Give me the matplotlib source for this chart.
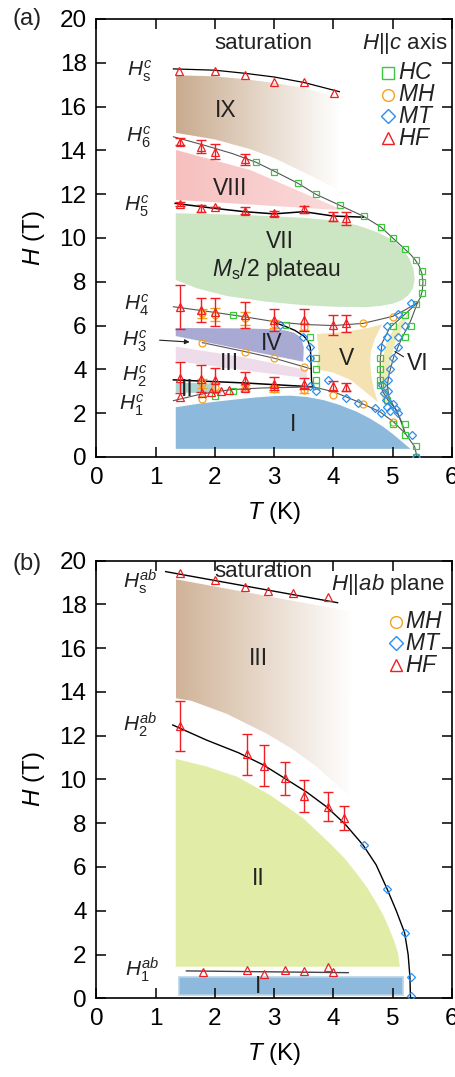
import numpy as np
import matplotlib.pyplot as plt
from matplotlib.patches import Polygon
from matplotlib.colors import LinearSegmentedColormap

plt.rcParams['font.family'] = ['Liberation Sans', 'DejaVu Sans']
plt.rcParams['mathtext.fontset'] = 'custom'
plt.rcParams['mathtext.it'] = 'Liberation Sans:italic'
plt.rcParams['mathtext.rm'] = 'Liberation Sans'

# ================= panel (a): H || c =================
# HF (pulsed field) transitions
hs_T = [1.40, 2.00, 2.51, 3.00, 3.50, 4.01]
hs_H = [17.64, 17.64, 17.43, 17.14, 17.14, 16.61]
h6_T = [1.41, 1.77, 2.01, 2.51]
h6_H = [14.40, 14.17, 13.94, 13.60]
h6_err = [0.15, 0.30, 0.35, 0.25]
hf_T = [1.41, 1.77, 2.00, 2.51, 3.00, 3.50, 4.00, 4.22]
h5_H = [11.54, 11.35, 11.43, 11.25, 11.12, 11.31, 10.97, 10.90]
h5_err = [0.10, 0.15, 0.0, 0.15, 0.12, 0.15, 0.20, 0.30]
h4_H = [6.86, 6.71, 6.63, 6.48, 6.26, 6.26, 6.03, 6.10]
h4_err = [1.0, 0.55, 0.65, 0.6, 0.5, 0.5, 0.45, 0.4]
h2_H = [3.62, 3.58, 3.50, 3.50, 3.35, 3.35, 3.24, 3.20]
h2_err = [0.7, 0.6, 0.55, 0.4, 0.3, 0.25, 0.25, 0.2]
h1_T = [1.41, 1.78, 1.93, 2.10, 2.23, 2.50]
h1_H = [2.75, 2.90, 2.97, 3.02, 3.06, 3.15]

# MH (orange)
mhe_T = [1.78, 2.00, 2.51, 3.00, 3.50, 1.78, 2.00, 2.51, 3.00, 3.50]
mhe_H = [6.56, 6.50, 6.33, 6.07, 5.95, 3.36, 3.20, 3.15, 3.10, 3.05]
mhe_err = [0.2, 0.3, 0.3, 0.2, 0.15, 0.2, 0.2, 0.15, 0.15, 0.15]
mh_T = [4.50, 5.00, 1.79, 2.51, 3.00, 3.50, 1.78, 4.00, 4.50, 5.00]
mh_H = [6.10, 6.41, 5.22, 4.81, 4.51, 4.12, 2.65, 2.83, 2.42, 1.61]

# MT (blue)
mt_T = [3.10, 3.49, 3.60, 3.60, 3.60, 3.70, 3.90, 4.21, 4.42, 4.70, 4.80, 4.88,
        4.90, 4.95, 5.01, 5.09, 5.32, 5.40, 5.30, 5.09, 4.90, 5.21, 4.91, 5.09,
        4.80, 5.09, 5.01, 4.95, 4.92, 4.92, 4.82, 4.85, 5.05]
mt_H = [6.03, 5.49, 5.04, 4.50, 3.24, 3.03, 3.52, 2.71, 2.48, 2.22, 2.03, 2.60,
        2.30, 2.10, 2.40, 2.03, 1.00, 0.00, 7.05, 6.53, 6.00, 6.00, 5.49, 5.49,
        5.01, 5.01, 4.50, 4.00, 3.50, 3.00, 3.30, 2.90, 2.20]

# HC (green)
hc_T = [2.70, 3.00, 3.41, 3.70, 4.11, 4.51, 4.80, 5.01, 5.21, 5.40, 5.50, 5.50,
        5.50, 5.40, 5.21, 5.30, 5.21, 5.00, 2.30, 3.20, 3.60, 3.70, 3.70, 3.70,
        3.70, 2.00, 2.30, 4.78, 4.78, 4.78, 4.78, 4.90, 5.00, 5.21, 5.21, 5.40, 5.40]
hc_H = [13.48, 13.00, 12.50, 12.00, 11.52, 11.00, 10.52, 10.00, 9.50, 9.00, 8.50, 8.00,
        7.50, 7.00, 6.48, 5.98, 5.49, 5.98, 6.48, 6.03, 5.49, 4.50, 4.00, 3.52,
        3.24, 2.80, 3.03, 4.50, 4.00, 3.52, 3.30, 2.60, 1.50, 1.51, 1.00, 0.50, 0.00]

# guide lines (a)
lhs_T = [1.30, 2.00, 2.50, 3.00, 3.50, 4.10]
lhs_H = [17.72, 17.66, 17.52, 17.35, 17.10, 16.68]
lh6_T = [1.30, 1.80, 2.30, 2.70, 3.00, 3.40, 3.70, 4.10, 4.50, 4.80, 5.00, 5.20, 5.30, 5.38, 5.45, 5.49, 5.51, 5.50, 5.47, 5.42]
lh6_H = [14.62, 14.25, 13.85, 13.45, 13.05, 12.50, 12.00, 11.50, 11.00, 10.50, 10.00, 9.50, 9.25, 9.00, 8.70, 8.40, 8.00, 7.60, 7.30, 7.05]
lh5_T = [1.33, 2.00, 2.50, 3.00, 3.50, 4.00, 4.50]
lh5_H = [11.58, 11.35, 11.20, 11.10, 11.20, 11.00, 10.95]
lh4_T = [1.30, 2.00, 2.50, 3.00, 3.50, 4.00, 4.50, 5.00, 5.20, 5.42]
lh4_H = [6.86, 6.60, 6.40, 6.18, 6.05, 6.00, 6.10, 6.42, 6.70, 7.05]
lh3_T = [1.79, 2.51, 3.00, 3.50, 3.62]
lh3_H = [5.22, 4.81, 4.51, 4.12, 4.02]
liv_T = [3.00, 3.20, 3.35, 3.50, 3.57, 3.61, 3.62, 3.63, 3.65]
liv_H = [6.15, 5.95, 5.78, 5.52, 5.30, 5.00, 4.50, 3.50, 3.20]
lh2_T = [1.30, 2.50, 3.66]
lh2_H = [3.52, 3.38, 3.20]
lh1_T = [1.30, 1.70, 2.00, 2.30, 2.80, 3.66, 4.00, 4.45, 4.78, 5.01, 5.21, 5.37, 5.41]
lh1_H = [2.57, 2.83, 2.98, 3.08, 3.15, 3.20, 2.98, 2.48, 2.07, 1.61, 1.08, 0.47, 0.00]
lvl_T = [5.42, 5.20, 4.95, 4.82, 4.79, 4.79, 4.83, 4.92, 5.05, 5.15, 5.21]
lvl_H = [7.05, 6.50, 5.90, 5.20, 4.50, 3.50, 3.00, 2.60, 2.20, 1.60, 1.08]
lvr_T = [5.42, 5.30, 5.15, 5.02, 4.94, 4.91, 4.93, 5.00, 5.10, 5.21]
lvr_H = [7.05, 6.20, 5.40, 4.60, 3.80, 3.30, 2.80, 2.40, 1.90, 1.08]

# phase regions (a)
r9_T = [1.34, 2.0, 2.5, 3.0, 3.5, 4.09, 4.09, 3.5, 3.0, 2.6, 2.0, 1.34]
r9_H = [17.43, 17.38, 17.25, 17.08, 16.85, 16.40, 12.2, 13.0, 13.65, 14.05, 14.5, 14.8]
r8_T = [1.34, 2.6, 4.05, 4.2, 4.05, 1.34]
r8_H = [14.02, 13.1, 11.40, 11.33, 11.28, 11.74]
r7_T = [1.34, 2.5, 3.5, 4.0, 4.4, 4.75, 5.0, 5.17, 5.28, 5.35, 5.37, 5.34, 5.27,
        5.15, 5.0, 4.8, 4.56, 4.0, 3.5, 2.87, 2.2, 1.7, 1.34]
r7_H = [11.13, 11.05, 10.92, 10.8, 10.58, 10.25, 9.9, 9.5, 9.05, 8.6, 8.1, 7.7, 7.4,
        7.15, 7.0, 6.9, 6.84, 6.86, 6.93, 7.09, 7.35, 7.7, 8.08]
r4_T = [1.34, 2.5, 3.0, 3.2, 3.33, 3.42, 3.47, 3.50, 3.49, 1.34]
r4_H = [5.89, 5.87, 5.83, 5.77, 5.68, 5.52, 5.3, 5.0, 4.35, 5.52]
r3_T = [1.34, 2.5, 3.55, 3.55, 2.5, 1.34]
r3_H = [5.04, 4.55, 3.97, 3.60, 3.95, 4.38]
r2_T = [1.34, 2.0, 2.0, 1.34]
r2_H = [3.40, 3.35, 2.90, 2.95]
r5_T = [3.72, 4.0, 4.3, 4.6, 4.82, 4.7, 4.63, 4.62, 4.64, 4.68, 4.75, 4.55, 4.3, 4.0, 3.72, 3.75]
r5_H = [5.62, 5.66, 5.76, 5.90, 6.05, 5.4, 4.8, 4.3, 3.7, 3.1, 2.5, 2.95, 3.5, 3.85, 4.0, 4.8]
r6_T = [5.33, 5.2, 5.05, 4.97, 4.93, 4.93, 4.97, 4.88, 4.82, 4.80, 4.82, 4.90, 5.05]
r6_H = [6.75, 6.1, 5.3, 4.5, 3.7, 3.0, 2.5, 2.3, 2.7, 3.5, 4.4, 5.3, 6.0]
r1_T = [1.34, 1.7, 2.0, 2.4, 2.7, 3.0, 3.27, 3.55, 3.83, 4.1, 4.39, 4.62, 4.84,
        5.0, 5.12, 5.22, 5.30, 1.34]
r1_H = [2.27, 2.42, 2.52, 2.64, 2.72, 2.78, 2.80, 2.74, 2.60, 2.38, 2.07, 1.75, 1.38,
        1.05, 0.78, 0.55, 0.37, 0.37]

# ================= panel (b): H || ab =================
hsb_T = [1.41, 2.00, 2.51, 2.90, 3.31, 3.91]
hsb_H = [19.42, 19.12, 18.81, 18.63, 18.54, 18.33]
h2b_T = [1.41, 2.55, 2.83, 3.18, 3.50, 3.91, 4.17]
h2b_H = [12.45, 11.15, 10.63, 10.05, 9.25, 8.76, 8.26]
h2b_err = [1.15, 0.95, 0.95, 0.75, 0.74, 0.65, 0.55]
h1b_T = [1.80, 2.55, 2.83, 3.18, 3.50, 3.90, 4.00]
h1b_H = [1.22, 1.30, 1.11, 1.30, 1.25, 1.42, 1.22]
mtb_T = [4.52, 4.90, 5.21, 5.31, 5.31]
mtb_H = [7.00, 5.00, 3.00, 0.99, 0.10]

lhsb_T = [1.17, 4.07]
lhsb_H = [19.50, 18.08]
lh2b_T = [1.29, 1.86, 2.40, 2.82, 3.18, 3.55, 3.88, 4.20, 4.50, 4.72, 4.90, 5.06,
          5.20, 5.26, 5.29, 5.30]
lh2b_H = [12.49, 11.80, 11.22, 10.66, 10.05, 9.42, 8.76, 7.95, 7.00, 6.10, 5.03, 4.00,
          3.00, 2.00, 0.99, 0.00]
lh1b_T = [1.52, 4.25]
lh1b_H = [1.25, 1.17]

rb3_T = [1.34, 4.31, 4.28, 3.72, 3.3, 2.87, 2.2, 1.6, 1.34]
rb3_H = [19.15, 17.67, 9.21, 10.58, 11.4, 12.1, 13.0, 13.6, 13.71]
rb2_T = [1.34, 1.85, 2.37, 2.93, 3.49, 3.94, 4.18, 4.39, 4.57, 4.73, 4.85, 4.95,
         5.03, 5.09, 5.12, 1.34]
rb2_H = [10.94, 10.60, 10.13, 9.29, 8.23, 7.08, 6.42, 5.71, 5.05, 4.34, 3.75, 3.12,
         2.58, 2.06, 1.44, 1.44]
rb1_T = [1.40, 5.18, 5.18, 1.40]
rb1_H = [0.15, 0.15, 0.96, 0.96]

RED = '#f01e23'
GRN = '#3cc83c'
ORG = '#f5a21e'
BLU = '#2a8ff0'


def region(ax, T, H, color):
    ax.add_patch(Polygon(np.column_stack([T, H]), closed=True, fc=color, ec='none', zorder=1))


def grad_region(ax, T, H, c0, c1):
    poly = Polygon(np.column_stack([T, H]), closed=True, fc='none', ec='none')
    ax.add_patch(poly)
    cmap = LinearSegmentedColormap.from_list('g', [c0, c1])
    im = ax.imshow(np.linspace(0, 1, 256).reshape(1, -1), cmap=cmap, aspect='auto',
                   extent=[min(T), max(T), min(H), max(H)], origin='lower', zorder=1)
    im.set_clip_path(poly)


def style(ax):
    ax.set_xlim(0, 6)
    ax.set_ylim(0, 20)
    ax.set_xticks(range(7))
    ax.set_yticks(range(0, 21, 2))
    ax.tick_params(direction='in', length=7, width=1.1, top=True, right=True,
                   labelsize=17.5, pad=7)
    for s in ax.spines.values():
        s.set_linewidth(1.2)
    ax.set_xlabel('$T$ (K)', fontsize=17.5, labelpad=8)
    ax.set_ylabel('$H$ (T)', fontsize=17.5, labelpad=9)


def guide(ax, T, H, c='#555555', lw=0.8):
    ax.plot(T, H, color=c, lw=lw, zorder=2)


def pts(ax, T, H, marker, color, ms=5.5):
    ax.plot(T, H, ls='none', marker=marker, mfc='none', mec=color, ms=ms, mew=0.9, zorder=3)


def errs(ax, T, H, e, color):
    ax.errorbar(T, H, yerr=e, fmt='none', ecolor=color, elinewidth=1.0, capsize=3.5,
                capthick=1.0, zorder=3)


fig = plt.figure(figsize=(4.55, 10.77), dpi=100)
ax_a = fig.add_axes([0.2117, 0.5757, 0.7817, 0.4067])
ax_b = fig.add_axes([0.2117, 0.0731, 0.7817, 0.4063])

# ---------- (a) ----------
ax = ax_a
grad_region(ax, r9_T, r9_H, '#c9ab8e', '#ffffff')
grad_region(ax, r8_T, r8_H, '#f6c0bf', '#fbdcdc')
region(ax, r7_T, r7_H, '#cce5c3')
region(ax, r4_T, r4_H, '#a9aad3')
region(ax, r3_T, r3_H, '#eedcea')
region(ax, r2_T, r2_H, '#a9d6d2')
region(ax, r5_T, r5_H, '#f5e2b2')
region(ax, r6_T, r6_H, '#eeecb2')
region(ax, r1_T, r1_H, '#8dbadc')

guide(ax, lhs_T, lhs_H, 'k', 0.9)
guide(ax, lh6_T, lh6_H)
guide(ax, lh5_T, lh5_H, 'k', 1.1)
guide(ax, lh4_T, lh4_H)
guide(ax, lh3_T, lh3_H)
guide(ax, liv_T, liv_H, 'k', 1.0)
guide(ax, lh2_T, lh2_H, 'k', 1.1)
guide(ax, lh1_T, lh1_H)
guide(ax, lvl_T, lvl_H)
guide(ax, lvr_T, lvr_H)

errs(ax, mhe_T, mhe_H, mhe_err, ORG)
pts(ax, mhe_T, mhe_H, 'o', ORG, 5)
pts(ax, mh_T, mh_H, 'o', ORG, 5)
pts(ax, hc_T, hc_H, 's', GRN, 5)
pts(ax, mt_T, mt_H, 'D', BLU, 4.5)
errs(ax, h6_T, h6_H, h6_err, RED)
errs(ax, hf_T, h5_H, h5_err, RED)
errs(ax, hf_T, h4_H, h4_err, RED)
errs(ax, hf_T, h2_H, h2_err, RED)
pts(ax, hs_T, hs_H, '^', RED, 6)
pts(ax, h6_T, h6_H, '^', RED, 6)
pts(ax, hf_T, h5_H, '^', RED, 6)
pts(ax, hf_T, h4_H, '^', RED, 6)
pts(ax, hf_T, h2_H, '^', RED, 6)
pts(ax, h1_T, h1_H, '^', RED, 6)

for name, x, y in [('IX', 2.19, 15.84), ('VIII', 2.26, 12.27), ('VII', 3.1, 9.83),
                   ('IV', 2.96, 5.19), ('III', 2.25, 4.28), ('II', 1.54, 3.06),
                   ('V', 4.22, 4.5), ('VI', 5.42, 4.28), ('I', 3.32, 1.46)]:
    ax.text(x, y, name, fontsize=16.5, ha='center', va='center', color='#222222', zorder=4)
ax.text(3.03, 8.57, '$M_\\mathrm{s}$/2 plateau', fontsize=16.5, ha='center', va='center',
        color='#222222', zorder=4)
ax.plot([5.04, 5.18], [4.81, 4.58], color='#222222', lw=0.8, zorder=4)
ax.annotate('', xy=(1.62, 5.24), xytext=(1.02, 5.34),
            arrowprops=dict(arrowstyle='-|>', color='#222222', lw=0.8, mutation_scale=7))
for name, x, y in [('$H_\\mathrm{s}^c$', 0.74, 17.6), ('$H_6^c$', 0.71, 14.6),
                   ('$H_5^c$', 0.68, 11.43), ('$H_4^c$', 0.68, 6.94),
                   ('$H_3^c$', 0.65, 5.27), ('$H_2^c$', 0.65, 3.67), ('$H_1^c$', 0.6, 2.37)]:
    ax.text(x, y, name, fontsize=15, ha='center', va='center', color='#222222')
ax.text(2.82, 18.9, 'saturation', fontsize=16, ha='center', va='center', color='#222222')
ax.text(5.92, 18.9, '$H$||$c$ axis', fontsize=16, ha='right', va='center', color='#222222')

leg_a = [('$HC$', 's', GRN), ('$MH$', 'o', ORG), ('$MT$', 'D', BLU), ('$HF$', '^', RED)]
for i, (lab, m, c) in enumerate(leg_a):
    y = 0.877 - i * 0.0497
    ax.plot([0.82], [y], transform=ax.transAxes, marker=m, mfc='none', mec=c,
            ms=8.5 if m != 'D' else 7.5, mew=1.0, ls='none')
    ax.text(0.848, y, lab, transform=ax.transAxes, fontsize=16.5, va='center', color='#222222')
style(ax)

# ---------- (b) ----------
ax = ax_b
grad_region(ax, rb3_T, rb3_H, '#d0b398', '#ffffff')
region(ax, rb2_T, rb2_H, '#e1eca7')
ax.add_patch(Polygon(np.column_stack([rb1_T, rb1_H]), closed=True, fc='#8dbadc',
                     ec='#b8d4ea', lw=1.2, zorder=1))
guide(ax, lhsb_T, lhsb_H, 'k', 1.0)
guide(ax, lh2b_T, lh2b_H, 'k', 1.0)
guide(ax, lh1b_T, lh1b_H, '#444444', 1.0)
errs(ax, h2b_T, h2b_H, h2b_err, RED)
pts(ax, hsb_T, hsb_H, '^', RED, 6)
pts(ax, h2b_T, h2b_H, '^', RED, 6)
pts(ax, h1b_T, h1b_H, '^', RED, 6)
pts(ax, mtb_T, mtb_H, 'D', BLU, 4.5)

for name, x, y in [('III', 2.73, 15.54), ('II', 2.73, 5.48), ('I', 2.73, 0.53)]:
    ax.text(x, y, name, fontsize=16.5, ha='center', va='center', color='#222222', zorder=4)
for name, x, y in [('$H_\\mathrm{s}^{ab}$', 0.74, 19.04), ('$H_2^{ab}$', 0.74, 12.49),
                   ('$H_1^{ab}$', 0.77, 1.29)]:
    ax.text(x, y, name, fontsize=15, ha='center', va='center', color='#222222')
ax.text(2.82, 19.5, 'saturation', fontsize=16, ha='center', va='center', color='#222222')
ax.text(5.88, 18.9, '$H$||$ab$ plane', fontsize=16, ha='right', va='center', color='#222222')

leg_b = [('$MH$', 'o', ORG), ('$MT$', 'D', BLU), ('$HF$', '^', RED)]
for i, (lab, m, c) in enumerate(leg_b):
    y = 0.861 - i * 0.050
    ax.plot([0.842], [y], transform=ax.transAxes, marker=m, mfc='none', mec=c,
            ms=8.5 if m != 'D' else 7.5, mew=1.0, ls='none')
    ax.text(0.868, y, lab, transform=ax.transAxes, fontsize=16.5, va='center', color='#222222')
style(ax)

fig.text(27 / 455, 1 - 19 / 1077, '(a)', fontsize=17, ha='center', va='center', color='#222222')
fig.text(27 / 455, 1 - 564 / 1077, '(b)', fontsize=17, ha='center', va='center', color='#222222')

fig.savefig('out.png', dpi=100)
